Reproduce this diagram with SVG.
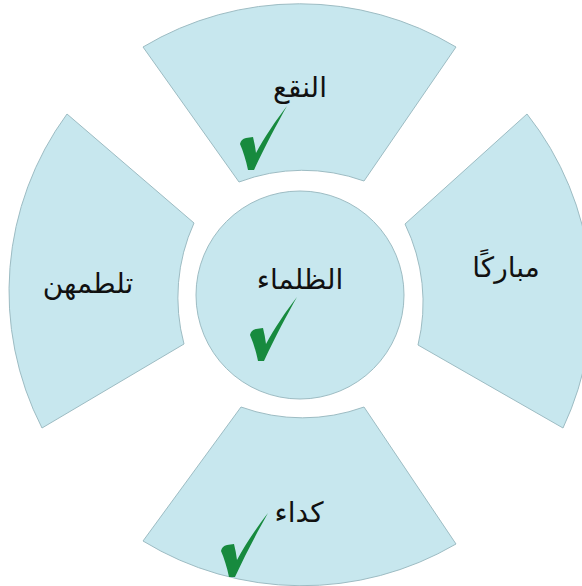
<svg xmlns="http://www.w3.org/2000/svg" xmlns:xlink="http://www.w3.org/1999/xlink" width="582" height="586" viewBox="0 0 582 586">
<style>
.seg{fill:#c7e7ee;stroke:#9dbcc3;stroke-width:1}
.lbl{font-family:"DejaVu Sans",sans-serif;font-size:28px;fill:#111;text-anchor:middle}
.tick{fill:#178a3e}
</style>
<defs>
<path id="tick" d="M -1,0 C -3,-10 -6,-19 -9,-26 Q -8,-31 -3,-32 L 4,-33 Q 6,-25 7,-17 C 15,-32 27,-50 38,-64 C 29,-48 16,-24 5,0 Z"/>
</defs>
<rect width="582" height="586" fill="#fff"/>
<g id="node-top">
<path class="seg" d="M 143,47 A 305,305 0 0 1 456,47 L 364,181 A 180,180 0 0 0 239,182 Z"/>
<text class="lbl" x="300" y="97">النقع</text>
<use class="tick" href="#tick" xlink:href="#tick" transform="translate(249,170)"/>
</g>
<g id="node-right">
<path class="seg" d="M 527,114 A 300,300 0 0 1 563,428 L 418,345 A 180,180 0 0 0 405,224 Z"/>
<text class="lbl" x="506" y="277">مباركًا</text>
</g>
<g id="node-bottom">
<path class="seg" d="M 241,407 A 180,180 0 0 0 364,407 L 456,544 A 305,305 0 0 1 143,541 Z"/>
<text class="lbl" x="299" y="522">كداء</text>
<use class="tick" href="#tick" xlink:href="#tick" transform="translate(230,577)"/>
</g>
<g id="node-left">
<path class="seg" d="M 42,428 A 300,300 0 0 1 67,114 L 194,223 A 180,180 0 0 0 184,344 Z"/>
<text class="lbl" x="88" y="293">تلطمهن</text>
</g>
<g id="node-center">
<circle class="seg" cx="300" cy="295" r="104"/>
<text class="lbl" x="300" y="289">الظلماء</text>
<use class="tick" href="#tick" xlink:href="#tick" transform="translate(259,361)"/>
</g>
</svg>
